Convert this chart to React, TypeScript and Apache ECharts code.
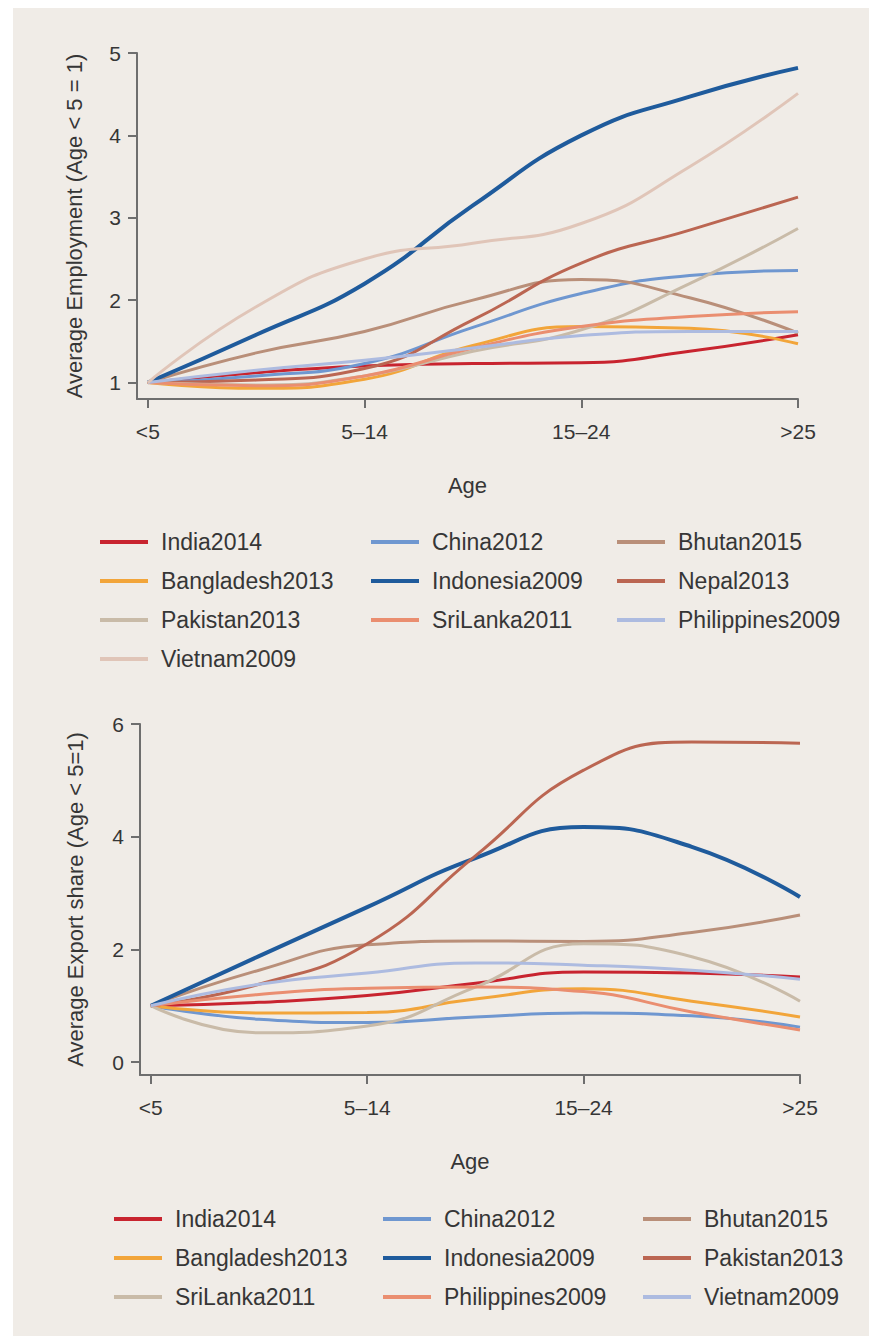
import React, { useEffect, useRef } from "react";
import * as echarts from "echarts";

// Age groups shown on the horizontal axis (placed at positions 0..3)
const ageGroups = ["<5", "5\u201314", "15\u201324", ">25"];
// Positions along the age axis at which each fitted curve is sampled
const fitStops = [0, 0.5, 1, 1.5, 2, 2.5, 3];

// Average employment, relative to firms younger than 5 years
const empIndia = [1.0, 1.12, 1.2, 1.23, 1.24, 1.38, 1.58];
const empChina = [1.0, 1.08, 1.23, 1.67, 2.08, 2.3, 2.36];
const empBhutan = [1.0, 1.36, 1.62, 2.0, 2.25, 2.03, 1.6];
const empBangladesh = [1.0, 0.93, 1.04, 1.45, 1.68, 1.66, 1.47];
const empIndonesia = [1.0, 1.58, 2.2, 3.15, 4.0, 4.47, 4.82];
const empNepal = [1.0, 1.03, 1.17, 1.76, 2.45, 2.85, 3.25];
const empPakistan = [1.0, 0.97, 1.08, 1.38, 1.64, 2.2, 2.87];
const empSriLanka = [1.0, 0.96, 1.08, 1.42, 1.68, 1.8, 1.86];
const empPhilippines = [1.0, 1.15, 1.27, 1.42, 1.57, 1.62, 1.62];
const empVietnam = [1.0, 1.92, 2.5, 2.69, 2.93, 3.62, 4.51];

// Average export share, relative to firms younger than 5 years
const expIndia = [1.0, 1.06, 1.18, 1.4, 1.6, 1.58, 1.51];
const expChina = [1.0, 0.76, 0.7, 0.8, 0.87, 0.82, 0.62];
const expBhutan = [1.0, 1.63, 2.08, 2.15, 2.14, 2.3, 2.61];
const expBangladesh = [1.0, 0.87, 0.88, 1.12, 1.3, 1.08, 0.8];
const expIndonesia = [1.0, 1.88, 2.75, 3.62, 4.17, 3.82, 2.93];
const expPakistan = [1.0, 1.38, 2.1, 3.66, 5.18, 5.68, 5.66];
const expSriLanka = [1.0, 0.52, 0.64, 1.33, 2.1, 1.87, 1.08];
const expPhilippines = [1.0, 1.2, 1.31, 1.33, 1.25, 0.89, 0.57];
const expVietnam = [1.0, 1.38, 1.58, 1.76, 1.72, 1.63, 1.47];

const C_RED = "#c8242f";
const C_BLUE = "#6f97d0";
const C_TAN = "#b98f79";
const C_ORANGE = "#f2a53a";
const C_NAVY = "#1f5b9c";
const C_BRICK = "#bb6652";
const C_GREIGE = "#c9bba8";
const C_SALMON = "#ea8e70";
const C_LAVENDER = "#adbbe0";
const C_BLUSH = "#e0c5b8";

const FONT = "'Liberation Sans', Arial, sans-serif";
const TEXT = "#363636";
const AXIS = "#6e6e6e";

type SeriesDef = { name: string; values: number[]; color: string; width?: number };

const employmentSeries: SeriesDef[] = [
  { name: "India2014", values: empIndia, color: C_RED },
  { name: "China2012", values: empChina, color: C_BLUE },
  { name: "Bhutan2015", values: empBhutan, color: C_TAN },
  { name: "Bangladesh2013", values: empBangladesh, color: C_ORANGE },
  { name: "Indonesia2009", values: empIndonesia, color: C_NAVY, width: 4 },
  { name: "Nepal2013", values: empNepal, color: C_BRICK },
  { name: "Pakistan2013", values: empPakistan, color: C_GREIGE },
  { name: "SriLanka2011", values: empSriLanka, color: C_SALMON },
  { name: "Philippines2009", values: empPhilippines, color: C_LAVENDER },
  { name: "Vietnam2009", values: empVietnam, color: C_BLUSH },
];

const exportSeries: SeriesDef[] = [
  { name: "India2014", values: expIndia, color: C_RED },
  { name: "China2012", values: expChina, color: C_BLUE },
  { name: "Bhutan2015", values: expBhutan, color: C_TAN },
  { name: "Bangladesh2013", values: expBangladesh, color: C_ORANGE },
  { name: "Indonesia2009", values: expIndonesia, color: C_NAVY, width: 4 },
  { name: "Pakistan2013", values: expPakistan, color: C_BRICK },
  { name: "SriLanka2011", values: expSriLanka, color: C_GREIGE },
  { name: "Philippines2009", values: expPhilippines, color: C_SALMON },
  { name: "Vietnam2009", values: expVietnam, color: C_LAVENDER },
];

function buildOption(cfg: {
  series: SeriesDef[];
  gridLeft: number;
  gridTop: number;
  gridWidth: number;
  gridHeight: number;
  yMin: number;
  yMax: number;
  yTicks: number[];
  yName: string;
  yNameGap: number;
  legendTop: number;
  legendLefts: number[];
}) {
  const names = cfg.series.map((s) => s.name);
  const columns = [0, 1, 2].map((c) => names.filter((_, i) => i % 3 === c));
  const axisLine = { onZero: false, lineStyle: { color: AXIS, width: 2 } };
  const tickStyle = { color: AXIS, width: 2 };
  return {
    animation: false,
    textStyle: { fontFamily: FONT },
    grid: {
      left: cfg.gridLeft,
      top: cfg.gridTop,
      width: cfg.gridWidth,
      height: cfg.gridHeight,
    },
    xAxis: {
      type: "value",
      min: -0.05,
      max: 3,
      name: "Age",
      nameLocation: "middle",
      nameGap: 75,
      nameTextStyle: { fontSize: 22, color: TEXT, fontFamily: FONT },
      axisLine,
      axisTick: { customValues: [0, 1, 2, 3], length: 9, lineStyle: tickStyle },
      axisLabel: {
        customValues: [0, 1, 2, 3],
        formatter: (v: number) => ageGroups[Math.round(v)],
        margin: 22,
        fontSize: 21,
        color: TEXT,
        fontFamily: FONT,
      },
      splitLine: { show: false },
    },
    yAxis: {
      type: "value",
      min: cfg.yMin,
      max: cfg.yMax,
      name: cfg.yName,
      nameLocation: "middle",
      nameRotate: 90,
      nameGap: cfg.yNameGap,
      nameTextStyle: { fontSize: 22, color: TEXT, fontFamily: FONT },
      axisLine,
      axisTick: { show: true, customValues: cfg.yTicks, length: 9, lineStyle: tickStyle },
      axisLabel: {
        customValues: cfg.yTicks,
        margin: 16,
        fontSize: 21,
        color: TEXT,
        fontFamily: FONT,
      },
      splitLine: { show: false },
    },
    legend: columns.map((data, c) => ({
      data,
      orient: "vertical",
      left: cfg.legendLefts[c],
      top: cfg.legendTop,
      height: 200,
      icon: "rect",
      itemWidth: 48,
      itemHeight: 4,
      itemGap: 13,
      selectedMode: false,
      textStyle: {
        fontSize: 23,
        lineHeight: 26,
        color: TEXT,
        fontFamily: FONT,
        padding: [0, 0, 0, 8],
      },
    })),
    series: cfg.series.map((s) => ({
      name: s.name,
      type: "line",
      data: fitStops.map((x, i) => [x, s.values[i]]),
      smooth: 0.5,
      showSymbol: false,
      symbol: "none",
      lineStyle: { color: s.color, width: s.width ?? 3 },
      itemStyle: { color: s.color },
      emphasis: { disabled: true },
    })),
  };
}

export default function App() {
  const topRef = useRef<HTMLDivElement>(null);
  const bottomRef = useRef<HTMLDivElement>(null);

  useEffect(() => {
    const top = echarts.init(topRef.current!, undefined, { renderer: "svg" });
    const bottom = echarts.init(bottomRef.current!, undefined, { renderer: "svg" });

    top.setOption(
      buildOption({
        series: employmentSeries,
        gridLeft: 137,
        gridTop: 53,
        gridWidth: 661,
        gridHeight: 346,
        yMin: 0.8,
        yMax: 5,
        yTicks: [1, 2, 3, 4, 5],
        yName: "Average Employment (Age < 5 = 1)",
        yNameGap: 52,
        legendTop: 524,
        legendLefts: [95, 366, 612],
      })
    );

    bottom.setOption(
      buildOption({
        series: exportSeries,
        gridLeft: 140,
        gridTop: 56,
        gridWidth: 660,
        gridHeight: 351,
        yMin: -0.23,
        yMax: 6,
        yTicks: [0, 2, 4, 6],
        yName: "Average Export share (Age < 5=1)",
        yNameGap: 54,
        legendTop: 533,
        legendLefts: [109, 378, 638],
      })
    );

    return () => {
      top.dispose();
      bottom.dispose();
    };
  }, []);

  return (
    <div
      style={{
        position: "absolute",
        left: 0,
        top: 0,
        width: 882,
        height: 1336,
        background: "#ffffff",
        overflow: "hidden",
      }}
    >
      <div
        style={{
          position: "absolute",
          left: 13,
          top: 8,
          width: 856,
          height: 1328,
          background: "#f0ece7",
        }}
      />
      <div ref={topRef} style={{ position: "absolute", left: 0, top: 0, width: 882, height: 700 }} />
      <div ref={bottomRef} style={{ position: "absolute", left: 0, top: 668, width: 882, height: 668 }} />
    </div>
  );
}
